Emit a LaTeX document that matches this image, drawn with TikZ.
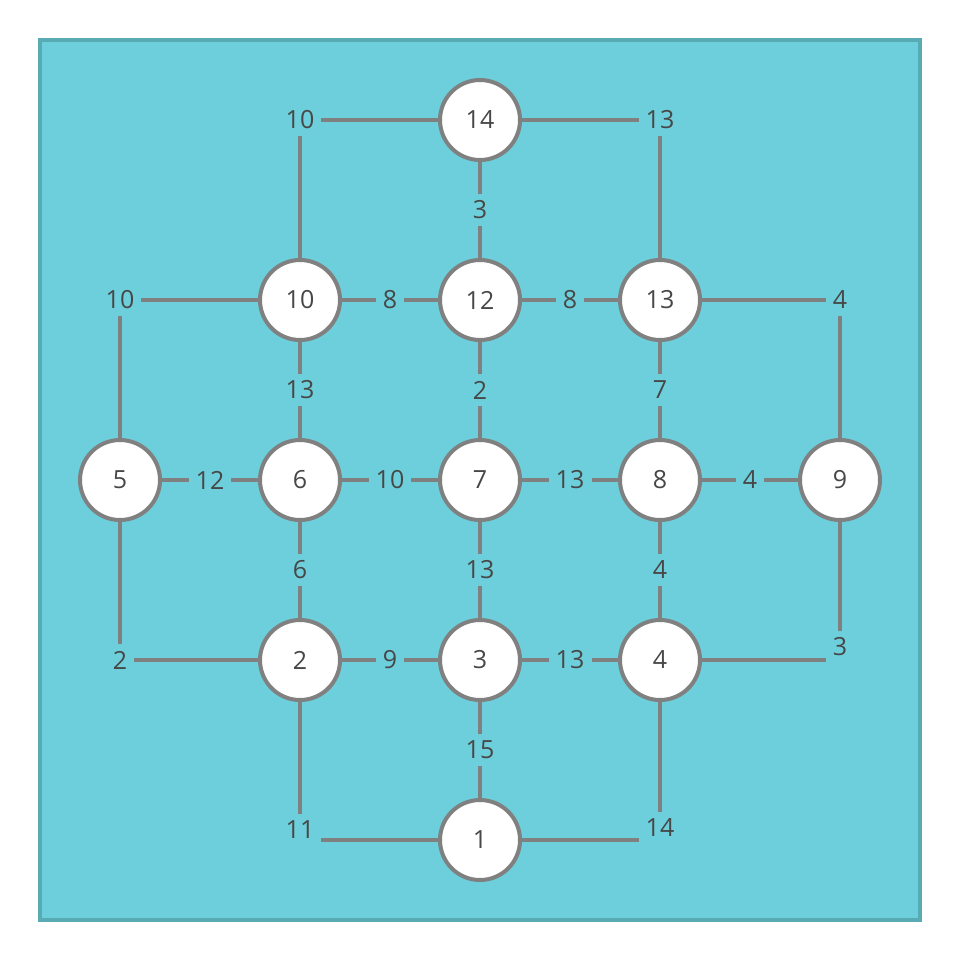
\documentclass[tikz,border=0pt]{standalone}
\usepackage{fontspec}
\setmainfont{Open Sans}
\definecolor{panel}{HTML}{6DCFDB}
\definecolor{panelrim}{HTML}{58AAB3}
\definecolor{wire}{HTML}{808080}
\definecolor{ink}{HTML}{474747}
\begin{document}
\begin{tikzpicture}[x=1pt,y=-1pt,
  vert/.style={circle,draw=wire,line width=4pt,fill=white,minimum size=80pt,
    inner sep=0pt,font=\fontsize{25}{30}\selectfont,text=ink},
  wt/.style={inner sep=7pt,font=\fontsize{25}{30}\selectfont,text=ink},
  edge/.style={draw=wire,line width=3.6pt}]
% canvas and panel
\useasboundingbox (0,0) rectangle (961,961);
\fill[white] (0,0) rectangle (961,961);
\draw[fill=panel,draw=panelrim,line width=3.5pt] (40,40) rectangle (920,920);

% vertices
\node[vert] (n14) at (480,120) {14};
\node[vert] (n10) at (300,300) {10};
\node[vert] (n12) at (480,300) {12};
\node[vert] (n13) at (660,300) {13};
\node[vert] (n5)  at (120,480) {5};
\node[vert] (n6)  at (300,480) {6};
\node[vert] (n7)  at (480,480) {7};
\node[vert] (n8)  at (660,480) {8};
\node[vert] (n9)  at (840,480) {9};
\node[vert] (n2)  at (300,660) {2};
\node[vert] (n3)  at (480,660) {3};
\node[vert] (n4)  at (660,660) {4};
\node[vert] (n1)  at (480,840) {1};

% edge weights
\node[wt] (w1410) at (300,120) {10};
\node[wt] (w1413) at (660,120) {13};
\node[wt] (w1412) at (480,210) {3};
\node[wt] (w105)  at (120,300) {10};
\node[wt] (w1012) at (390,300) {8};
\node[wt] (w1213) at (570,300) {8};
\node[wt] (w139)  at (840,300) {4};
\node[wt] (w106)  at (300,390) {13};
\node[wt] (w127)  at (480,390) {2};
\node[wt] (w138)  at (660,390) {7};
\node[wt] (w56)   at (210,480) {12};
\node[wt] (w67)   at (390,480) {10};
\node[wt] (w78)   at (570,480) {13};
\node[wt] (w89)   at (750,480) {4};
\node[wt] (w62)   at (300,570) {6};
\node[wt] (w73)   at (480,570) {13};
\node[wt] (w84)   at (660,570) {4};
\node[wt] (w52)   at (120,660) {2};
\node[wt] (w23)   at (390,660) {9};
\node[wt] (w34)   at (570,660) {13};
\node[wt] (w94)   at (840,647) {3};
\node[wt] (w31)   at (480,750) {15};
\node[wt] (w21)   at (300,830) {11};
\node[wt] (w41)   at (660,828) {14};

% connectors
\draw[edge] (n14) -- (w1410) (w1410) -- (n10);
\draw[edge] (n14) -- (w1413) (w1413) -- (n13);
\draw[edge] (n14) -- (w1412) (w1412) -- (n12);
\draw[edge] (n10) -- (w105) (w105) -- (n5);
\draw[edge] (n10) -- (w1012) (w1012) -- (n12);
\draw[edge] (n12) -- (w1213) (w1213) -- (n13);
\draw[edge] (n13) -- (w139) (w139) -- (n9);
\draw[edge] (n10) -- (w106) (w106) -- (n6);
\draw[edge] (n12) -- (w127) (w127) -- (n7);
\draw[edge] (n13) -- (w138) (w138) -- (n8);
\draw[edge] (n5) -- (w56) (w56) -- (n6);
\draw[edge] (n6) -- (w67) (w67) -- (n7);
\draw[edge] (n7) -- (w78) (w78) -- (n8);
\draw[edge] (n8) -- (w89) (w89) -- (n9);
\draw[edge] (n6) -- (w62) (w62) -- (n2);
\draw[edge] (n7) -- (w73) (w73) -- (n3);
\draw[edge] (n8) -- (w84) (w84) -- (n4);
\draw[edge] (n5) -- (w52) (w52) -- (n2);
\draw[edge] (n2) -- (w23) (w23) -- (n3);
\draw[edge] (n3) -- (w34) (w34) -- (n4);
\draw[edge] (n9) -- (w94) (n4) -- (w94.west |- n4);
\draw[edge] (n3) -- (w31) (w31) -- (n1);
\draw[edge] (n2) -- (w21) (n1) -- (w21.east |- n1);
\draw[edge] (n4) -- (w41) (n1) -- (w41.west |- n1);
\end{tikzpicture}
\end{document}
